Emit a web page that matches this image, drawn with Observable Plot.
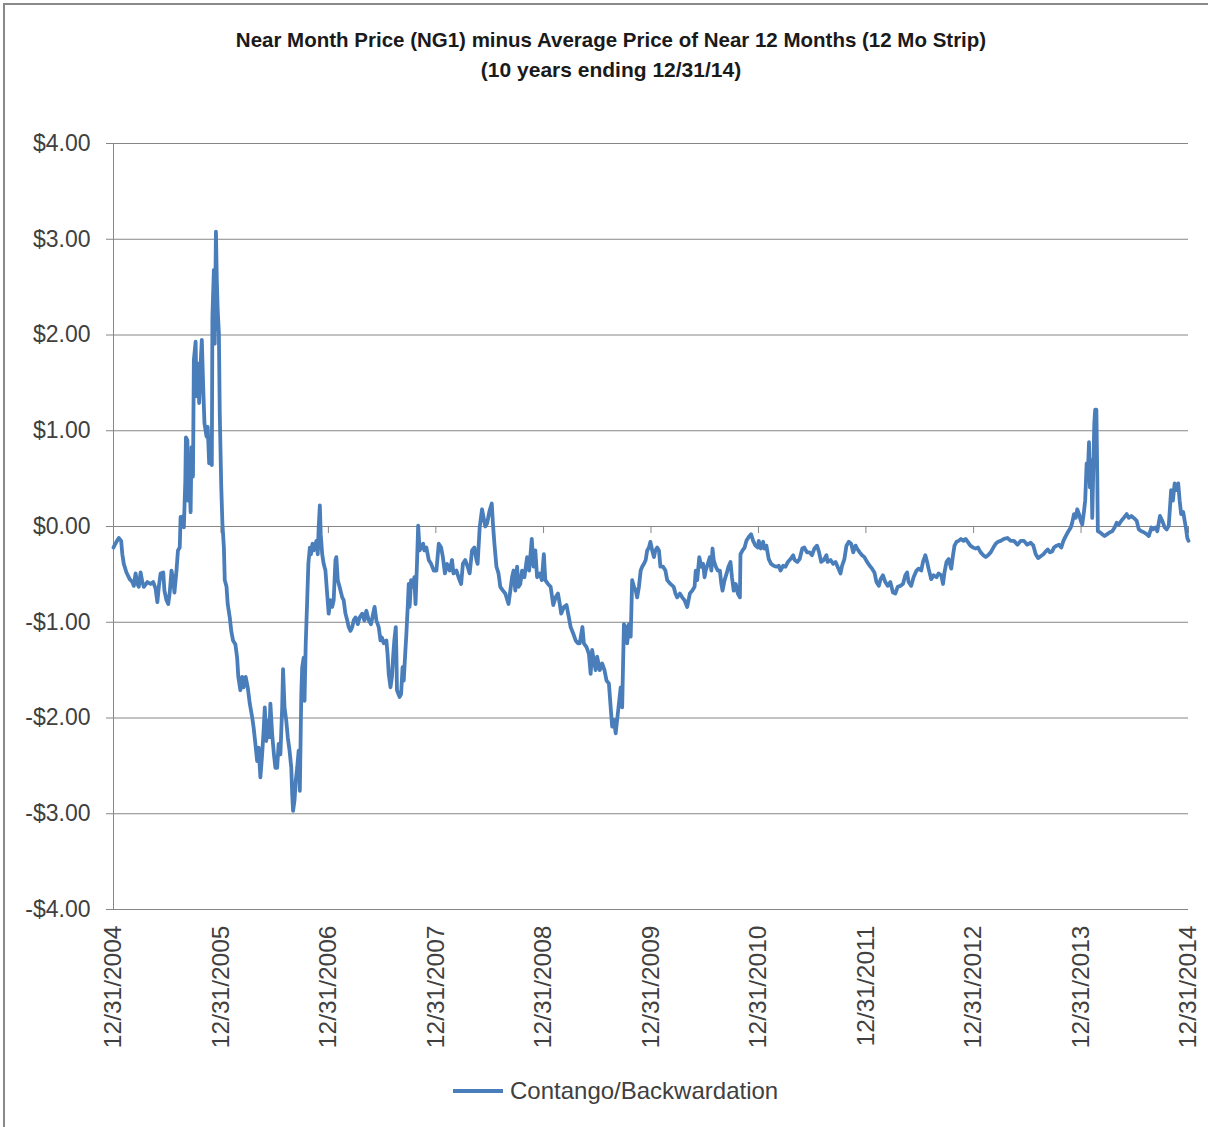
<!DOCTYPE html>
<html>
<head>
<meta charset="utf-8">
<script src="https://cdn.jsdelivr.net/npm/d3@7"></script>
<script src="https://cdn.jsdelivr.net/npm/@observablehq/plot@0.6"></script>
<style>
  html, body { margin: 0; padding: 0; background: #fff; overflow: hidden; width: 1208px; height: 1127px; }
  body { position: relative; font-family: "Liberation Sans", Arial, sans-serif; }
  #frame { position: absolute; left: 3px; top: 3px; width: 1205px; height: 1124px;
           border-left: 2px solid #8a8a8a; border-top: 2px solid #8a8a8a; pointer-events: none; box-sizing: border-box; }
  #title { height: 100px; box-sizing: border-box; padding-top: 25px; padding-left: 14px;
           text-align: center; font-weight: bold; font-size: 20.5px; line-height: 30px; color: #1a1a1a; }
  #title .l2 { font-size: 21px; }
  #chart svg { display: block; }
  #legend { margin-top: 11px; margin-left: 453px; height: 40px; display: flex; align-items: center;
            font-size: 24px; color: #404040; }
  #legend .sw { width: 50px; height: 3.5px; background: #4a7ebb; margin-right: 7px; }
</style>
</head>
<body>
<div id="frame"></div>
<div id="title">Near Month Price (NG1) minus Average Price of Near 12 Months (12 Mo Strip)<br><span class="l2">(10 years ending 12/31/14)</span></div>
<div id="chart"></div>
<div id="legend"><div class="sw"></div><span>Contango/Backwardation</span></div>
<script>
// ---- Data ----
const seriesName = "Contango/Backwardation";

const dates = [
"2004-12-31","2005-01-03","2005-01-10","2005-01-18","2005-01-26","2005-01-30","2005-02-04","2005-02-13","2005-02-24","2005-03-05",
"2005-03-10","2005-03-16","2005-03-22","2005-03-27","2005-04-02","2005-04-08","2005-04-13","2005-04-25","2005-05-06","2005-05-15",
"2005-05-23","2005-05-29","2005-06-03","2005-06-09","2005-06-18","2005-06-22","2005-06-29","2005-07-05","2005-07-10","2005-07-16",
"2005-07-22","2005-07-26","2005-08-02","2005-08-07","2005-08-13","2005-08-16","2005-08-20","2005-08-25","2005-08-27","2005-09-01",
"2005-09-03","2005-09-08","2005-09-11","2005-09-14","2005-09-19","2005-09-22","2005-09-27","2005-09-30","2005-10-06","2005-10-09",
"2005-10-14","2005-10-18","2005-10-23","2005-10-27","2005-11-01","2005-11-05","2005-11-12","2005-11-16","2005-11-21","2005-11-26",
"2005-11-30","2005-12-02","2005-12-07","2005-12-10","2005-12-14","2005-12-17","2005-12-20","2005-12-24","2005-12-27",
"2006-01-01","2006-01-05","2006-01-10","2006-01-13","2006-01-19","2006-01-23","2006-01-30","2006-02-04","2006-02-10","2006-02-18",
"2006-02-24","2006-02-28","2006-03-07","2006-03-13","2006-03-18","2006-03-25","2006-04-01","2006-04-08","2006-04-16","2006-04-21",
"2006-04-27","2006-05-03","2006-05-08","2006-05-14","2006-05-20","2006-05-25","2006-05-29","2006-06-03","2006-06-08","2006-06-13",
"2006-06-17","2006-06-23","2006-06-29","2006-07-04","2006-07-10","2006-07-15","2006-07-21","2006-07-27","2006-07-30","2006-08-04",
"2006-08-10","2006-08-15","2006-08-21","2006-08-27","2006-08-30","2006-09-02","2006-09-07","2006-09-11","2006-09-16","2006-09-21",
"2006-09-25","2006-09-30","2006-10-03","2006-10-08","2006-10-11","2006-10-15","2006-10-20","2006-10-24","2006-10-29","2006-11-02",
"2006-11-07","2006-11-11","2006-11-16","2006-11-20","2006-11-25","2006-11-28","2006-12-02","2006-12-05","2006-12-10","2006-12-15",
"2006-12-21","2006-12-26",
"2007-01-01","2007-01-07","2007-01-13","2007-01-18","2007-01-24","2007-01-27","2007-02-01","2007-02-07","2007-02-16","2007-02-21",
"2007-02-27","2007-03-05","2007-03-10","2007-03-16","2007-03-22","2007-03-27","2007-04-02","2007-04-10","2007-04-16","2007-04-25",
"2007-05-02","2007-05-09","2007-05-17","2007-05-25","2007-06-01","2007-06-06","2007-06-12","2007-06-20","2007-06-26","2007-07-01",
"2007-07-07","2007-07-16","2007-07-20","2007-07-24","2007-07-30","2007-08-04","2007-08-08","2007-08-12","2007-08-17","2007-08-19",
"2007-08-21","2007-08-26","2007-08-30","2007-09-04","2007-09-09","2007-09-13","2007-09-18","2007-09-22","2007-09-27","2007-09-30",
"2007-10-03","2007-10-08","2007-10-15","2007-10-19","2007-10-23","2007-10-28","2007-11-01","2007-11-06","2007-11-11","2007-11-18",
"2007-11-22","2007-11-29","2007-12-07","2007-12-15","2007-12-24",
"2008-01-02","2008-01-10","2008-01-18","2008-01-24","2008-01-31","2008-02-07","2008-02-16","2008-02-24","2008-02-29","2008-03-10",
"2008-03-17","2008-03-26","2008-04-01","2008-04-09","2008-04-17","2008-04-24","2008-05-02","2008-05-10","2008-05-17","2008-05-21",
"2008-05-28","2008-06-05","2008-06-16","2008-06-22","2008-07-01","2008-07-08","2008-07-12","2008-07-17","2008-07-24","2008-07-31",
"2008-08-06","2008-08-15","2008-08-23","2008-09-03","2008-09-09","2008-09-15","2008-09-20","2008-09-26","2008-10-02","2008-10-07",
"2008-10-13","2008-10-19","2008-10-27","2008-11-05","2008-11-12","2008-11-21","2008-11-27","2008-12-03","2008-12-09","2008-12-18",
"2008-12-25",
"2009-01-01","2009-01-06","2009-01-15","2009-01-24","2009-02-02","2009-02-10","2009-02-18","2009-02-24","2009-03-01","2009-03-10",
"2009-03-19","2009-03-27","2009-04-02","2009-04-11","2009-04-19","2009-04-27","2009-05-03","2009-05-12","2009-05-17","2009-05-26",
"2009-06-03","2009-06-09","2009-06-14","2009-06-20","2009-06-26","2009-07-01","2009-07-10","2009-07-18","2009-07-26","2009-08-02",
"2009-08-10","2009-08-16","2009-08-21","2009-08-27","2009-09-02","2009-09-07","2009-09-13","2009-09-19","2009-09-24","2009-09-30",
"2009-10-06","2009-10-11","2009-10-17","2009-10-23","2009-10-28","2009-11-03","2009-11-09","2009-11-14","2009-11-20","2009-11-26",
"2009-12-01","2009-12-07","2009-12-13","2009-12-18","2009-12-24","2009-12-29",
"2010-01-04","2010-01-10","2010-01-15","2010-01-21","2010-01-27","2010-02-01","2010-02-10","2010-02-18","2010-02-24","2010-03-07",
"2010-03-18","2010-03-24","2010-03-30","2010-04-08","2010-04-16","2010-04-24","2010-05-03","2010-05-12","2010-05-20","2010-05-28",
"2010-06-01","2010-06-06","2010-06-13","2010-06-20","2010-06-26","2010-07-01","2010-07-05","2010-07-12","2010-07-19","2010-07-24",
"2010-07-28","2010-08-01","2010-08-08","2010-08-15","2010-08-22","2010-08-27","2010-08-31","2010-09-07","2010-09-14","2010-09-20",
"2010-09-27","2010-10-02","2010-10-08","2010-10-15","2010-10-22","2010-10-29","2010-10-31","2010-11-07","2010-11-14","2010-11-20",
"2010-11-28","2010-12-06","2010-12-13","2010-12-21","2010-12-29",
"2011-01-01","2011-01-08","2011-01-16","2011-01-20","2011-01-27","2011-02-04","2011-02-12","2011-02-21","2011-03-02","2011-03-10",
"2011-03-16","2011-03-25","2011-04-02","2011-04-10","2011-04-19","2011-04-28","2011-05-03","2011-05-12","2011-05-20","2011-05-29",
"2011-06-05","2011-06-14","2011-06-23","2011-07-01","2011-07-09","2011-07-18","2011-07-25","2011-08-01","2011-08-10","2011-08-19",
"2011-08-23","2011-09-02","2011-09-11","2011-09-19","2011-09-26","2011-10-06","2011-10-11","2011-10-19","2011-10-26","2011-11-03",
"2011-11-11","2011-11-18","2011-11-26","2011-12-01","2011-12-10","2011-12-18","2011-12-26",
"2012-01-04","2012-01-13","2012-01-21","2012-01-29","2012-02-05","2012-02-13","2012-02-19","2012-02-27","2012-03-06","2012-03-14",
"2012-03-23","2012-04-01","2012-04-09","2012-04-17","2012-04-26","2012-05-05","2012-05-13","2012-05-19","2012-05-24","2012-06-02",
"2012-06-10","2012-06-20","2012-06-27","2012-07-06","2012-07-12","2012-07-20","2012-07-26","2012-07-31","2012-08-09","2012-08-17",
"2012-08-27","2012-09-03","2012-09-12","2012-09-18","2012-09-23","2012-09-30","2012-10-07","2012-10-16","2012-10-22","2012-10-27",
"2012-11-03","2012-11-10","2012-11-18","2012-11-27","2012-12-04","2012-12-11","2012-12-20","2012-12-29",
"2013-01-07","2013-01-15","2013-01-24","2013-02-02","2013-02-10","2013-02-18","2013-02-27","2013-03-08","2013-03-16","2013-03-24",
"2013-04-02","2013-04-13","2013-04-25","2013-05-06","2013-05-17","2013-05-29","2013-06-09","2013-06-20","2013-07-01","2013-07-13",
"2013-07-22","2013-07-30","2013-08-07","2013-08-16","2013-08-25","2013-09-02","2013-09-09","2013-09-16","2013-09-24","2013-09-30",
"2013-10-09","2013-10-17","2013-10-25","2013-11-01","2013-11-09","2013-11-16","2013-11-26","2013-12-01","2013-12-07","2013-12-13",
"2013-12-18","2013-12-24","2013-12-30",
"2014-01-04","2014-01-10","2014-01-14","2014-01-19","2014-01-23","2014-01-27","2014-01-30","2014-02-04","2014-02-07","2014-02-10",
"2014-02-14","2014-02-17","2014-02-21","2014-02-24","2014-02-26","2014-03-05","2014-03-13","2014-03-21","2014-03-30","2014-04-08",
"2014-04-16","2014-04-24","2014-05-01","2014-05-08","2014-05-17","2014-05-25","2014-06-04","2014-06-11","2014-06-20","2014-06-28",
"2014-07-08","2014-07-15","2014-07-24","2014-08-01","2014-08-11","2014-08-18","2014-08-27","2014-09-02","2014-09-10","2014-09-16",
"2014-09-25","2014-10-03","2014-10-11","2014-10-18","2014-10-25","2014-11-02","2014-11-08","2014-11-14","2014-11-20","2014-11-26",
"2014-12-01","2014-12-06","2014-12-13","2014-12-18","2014-12-22","2014-12-27","2014-12-31"
];

const values = [
-0.22,-0.20,-0.16,-0.12,-0.15,-0.29,-0.39,-0.48,-0.55,-0.58,
-0.62,-0.49,-0.60,-0.63,-0.48,-0.58,-0.63,-0.58,-0.60,-0.58,
-0.65,-0.79,-0.63,-0.49,-0.48,-0.67,-0.77,-0.81,-0.69,-0.46,
-0.56,-0.69,-0.46,-0.25,-0.22,0.10,0.03,0.11,-0.01,0.48,
0.93,0.90,0.27,0.62,0.15,0.83,0.52,1.74,1.93,1.36,
1.70,1.29,1.70,1.95,1.43,1.08,0.94,1.04,0.66,0.87,
0.64,2.19,2.68,1.91,3.08,2.57,2.26,2.02,1.18,
0.42,0.03,-0.22,-0.56,-0.63,-0.81,-0.95,-1.09,-1.19,-1.23,
-1.37,-1.57,-1.71,-1.57,-1.68,-1.57,-1.68,-1.85,-1.99,-2.10,
-2.27,-2.45,-2.31,-2.62,-2.38,-2.13,-1.89,-2.24,-2.03,-2.20,
-1.85,-2.17,-2.38,-2.52,-2.52,-2.27,-2.38,-1.89,-1.49,-1.89,
-2.03,-2.20,-2.34,-2.52,-2.79,-2.97,-2.86,-2.66,-2.52,-2.34,
-2.76,-1.75,-1.47,-1.37,-1.82,-1.23,-0.77,-0.39,-0.22,-0.29,
-0.18,-0.25,-0.22,-0.15,-0.29,-0.01,0.22,-0.08,-0.29,-0.39,
-0.46,-0.67,
-0.91,-0.77,-0.84,-0.77,-0.35,-0.32,-0.56,-0.63,-0.74,-0.77,
-0.91,-0.98,-1.05,-1.09,-1.05,-0.98,-0.95,-1.02,-0.95,-0.91,
-0.98,-0.88,-0.98,-1.02,-0.91,-0.84,-0.98,-1.05,-1.19,-1.16,
-1.22,-1.19,-1.33,-1.54,-1.68,-1.57,-1.36,-1.19,-1.05,-1.33,
-1.71,-1.75,-1.78,-1.75,-1.47,-1.61,-1.33,-1.12,-0.81,-0.60,
-0.84,-0.56,-0.63,-0.53,-0.81,-0.39,0.01,-0.25,-0.22,-0.18,
-0.25,-0.22,-0.35,-0.39,-0.46,
-0.46,-0.18,-0.22,-0.32,-0.49,-0.39,-0.46,-0.35,-0.49,-0.46,
-0.53,-0.60,-0.39,-0.35,-0.42,-0.49,-0.25,-0.22,-0.35,-0.39,
-0.01,0.18,0.00,0.03,0.17,0.24,0.03,-0.18,-0.42,-0.49,
-0.63,-0.67,-0.70,-0.81,-0.67,-0.53,-0.46,-0.67,-0.42,-0.63,
-0.60,-0.46,-0.53,-0.32,-0.46,-0.13,-0.42,-0.25,-0.53,-0.49,
-0.56,
-0.29,-0.56,-0.60,-0.63,-0.82,-0.74,-0.70,-0.81,-0.91,-0.84,
-0.82,-0.95,-1.05,-1.12,-1.19,-1.22,-1.22,-1.05,-1.22,-1.26,
-1.33,-1.54,-1.29,-1.40,-1.50,-1.36,-1.50,-1.43,-1.50,-1.61,
-1.64,-1.89,-2.09,-2.02,-2.16,-2.02,-1.85,-1.68,-1.89,-1.02,
-1.05,-1.22,-1.02,-1.15,-0.56,-0.63,-0.67,-0.74,-0.63,-0.46,
-0.42,-0.39,-0.35,-0.25,-0.22,-0.16,
-0.25,-0.32,-0.25,-0.22,-0.25,-0.42,-0.42,-0.46,-0.56,-0.60,
-0.63,-0.70,-0.74,-0.70,-0.74,-0.77,-0.84,-0.70,-0.67,-0.63,
-0.46,-0.56,-0.32,-0.42,-0.39,-0.53,-0.46,-0.39,-0.32,-0.46,
-0.23,-0.35,-0.42,-0.46,-0.46,-0.60,-0.67,-0.56,-0.49,-0.42,
-0.37,-0.53,-0.67,-0.60,-0.70,-0.74,-0.29,-0.25,-0.22,-0.15,
-0.11,-0.08,-0.15,-0.20,-0.22,
-0.15,-0.23,-0.16,-0.23,-0.20,-0.34,-0.39,-0.41,-0.42,-0.41,
-0.46,-0.41,-0.42,-0.37,-0.34,-0.30,-0.35,-0.37,-0.34,-0.23,
-0.22,-0.27,-0.27,-0.30,-0.23,-0.20,-0.27,-0.37,-0.35,-0.30,
-0.37,-0.35,-0.39,-0.37,-0.42,-0.49,-0.41,-0.34,-0.20,-0.16,
-0.18,-0.27,-0.20,-0.23,-0.27,-0.30,-0.32,
-0.37,-0.41,-0.44,-0.48,-0.58,-0.62,-0.55,-0.51,-0.58,-0.62,
-0.58,-0.69,-0.70,-0.63,-0.62,-0.60,-0.51,-0.48,-0.58,-0.62,
-0.53,-0.46,-0.44,-0.46,-0.37,-0.30,-0.37,-0.44,-0.55,-0.51,
-0.53,-0.49,-0.51,-0.60,-0.48,-0.37,-0.34,-0.44,-0.30,-0.20,
-0.16,-0.15,-0.13,-0.15,-0.13,-0.16,-0.20,-0.22,
-0.23,-0.22,-0.27,-0.30,-0.32,-0.30,-0.27,-0.22,-0.18,-0.16,
-0.15,-0.13,-0.12,-0.15,-0.15,-0.19,-0.15,-0.15,-0.19,-0.17,
-0.20,-0.29,-0.33,-0.31,-0.29,-0.26,-0.24,-0.27,-0.26,-0.22,
-0.20,-0.19,-0.22,-0.15,-0.10,-0.06,-0.01,0.04,0.13,0.09,
0.18,0.13,0.06,
0.02,0.16,0.27,0.66,0.55,0.88,0.41,0.69,0.09,0.52,
1.08,1.22,1.22,0.55,-0.05,-0.06,-0.08,-0.10,-0.08,-0.06,
-0.05,-0.01,0.04,0.02,0.06,0.09,0.13,0.09,0.11,0.09,
0.06,-0.03,-0.05,-0.06,-0.08,-0.10,-0.01,-0.03,-0.01,-0.05,
0.11,0.06,-0.01,-0.03,0.01,0.38,0.27,0.45,0.38,0.45,
0.27,0.13,0.15,0.06,-0.01,-0.12,-0.15
];

const yTicks = [-4, -3, -2, -1, 0, 1, 2, 3, 4];
const xTickDates = ["2004-12-31","2005-12-31","2006-12-31","2007-12-31","2008-12-31","2009-12-31",
                    "2010-12-31","2011-12-31","2012-12-31","2013-12-31","2014-12-31"];
const xTickLabels = ["12/31/2004","12/31/2005","12/31/2006","12/31/2007","12/31/2008","12/31/2009",
                     "12/31/2010","12/31/2011","12/31/2012","12/31/2013","12/31/2014"];

// ---- Build table ----
const data = dates.map((d, i) => ({date: new Date(d + "T00:00:00Z"), value: values[i], series: seriesName}));
const xTicks = xTickDates.map((d, i) => ({date: new Date(d + "T00:00:00Z"), label: xTickLabels[i]}));
const fmt = v => (v < 0 ? "-" : "") + "$" + Math.abs(v).toFixed(2);

const gridColor = "#868686";
const textColor = "#404040";

const chart = Plot.plot({
  width: 1208,
  height: 960,
  marginLeft: 113,
  marginRight: 20,
  marginTop: 43,
  marginBottom: 151,
  style: {fontFamily: "'Liberation Sans', Arial, sans-serif", background: "transparent", overflow: "visible"},
  x: {type: "utc", domain: [xTicks[0].date, xTicks[xTicks.length - 1].date], axis: null},
  y: {domain: [-4, 4], axis: null},
  marks: [
    Plot.ruleY(yTicks, {stroke: gridColor, strokeWidth: 1}),
    Plot.ruleX([xTicks[0].date], {y1: -4, y2: 4, stroke: gridColor, strokeWidth: 1}),
    Plot.axisY(yTicks, {label: null, tickSize: 7, tickPadding: 16, tickFormat: fmt, fontSize: 23, stroke: gridColor, fill: textColor}),
    Plot.ruleX(xTicks, {x: "date", y1: 0, y2: 0, insetBottom: -7, stroke: gridColor, strokeWidth: 1}),
    Plot.text(xTicks, {x: "date", y: -4, dy: 16, text: "label", rotate: -90, textAnchor: "end",
                       lineAnchor: "middle", fontSize: 24.5, fill: textColor}),
    Plot.line(data, {x: "date", y: "value", stroke: "#4a7ebb", strokeWidth: 3.8, strokeLinejoin: "round", strokeLinecap: "round"})
  ]
});
document.getElementById("chart").appendChild(chart);
</script>
</body>
</html>
